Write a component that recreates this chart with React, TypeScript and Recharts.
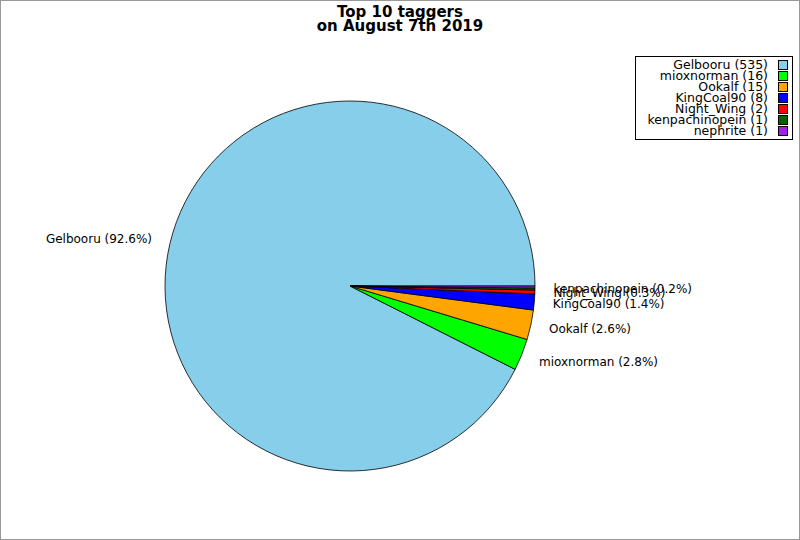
import React from "react";
import { Cell, Legend, Pie, PieChart } from "recharts";

const taggers = ["Gelbooru", "mioxnorman", "Ookalf", "KingCoal90", "Night_Wing", "kenpachinopein", "nephrite"];
const counts = [535, 16, 15, 8, 2, 1, 1];
const colors = ["#87ceeb", "#00ff00", "#ffa500", "#0000ff", "#ff0000", "#006400", "#a020f0"];
// the picture has no label for the last slice
const showLabel = [true, true, true, true, true, true, false];

const FONT = "'DejaVu Sans', sans-serif";
const RADIAN = Math.PI / 180;

const data = taggers.map((name, i) => ({ name, value: counts[i] }));

function renderLabel(props: any) {
  const { cx, cy, midAngle, outerRadius, index, percent } = props;
  if (!showLabel[index]) return null;
  const r = outerRadius * 1.1;
  const x = cx + r * Math.cos(-midAngle * RADIAN);
  const y = cy + r * Math.sin(-midAngle * RADIAN);
  return (
    <text
      x={x}
      y={y}
      fill="#000"
      fontSize={12}
      fontFamily={FONT}
      textAnchor={x > cx ? "start" : "end"}
      dominantBaseline="central"
    >
      {`${taggers[index]} (${(percent * 100).toFixed(1)}%)`}
    </text>
  );
}

function LegendBox() {
  return (
    <div
      style={{
        border: "1px solid #000",
        background: "#fff",
        padding: "2px 4px 3px 11px",
        fontFamily: FONT,
        fontSize: 12.5,
        lineHeight: "11px",
      }}
    >
      {taggers.map((t, i) => (
        <div key={t} style={{ display: "flex", justifyContent: "flex-end", alignItems: "center" }}>
          <span>{`${t} (${counts[i]})`}</span>
          <span
            style={{
              display: "inline-block",
              width: 8,
              height: 8,
              marginLeft: 10,
              background: colors[i],
              border: "1px solid #000",
            }}
          />
        </div>
      ))}
    </div>
  );
}

export default function App() {
  return (
    <div
      style={{
        position: "absolute",
        left: 0,
        top: 0,
        width: 798,
        height: 538,
        border: "1px solid #999",
        background: "#fff",
      }}
    >
      <div
        style={{
          position: "absolute",
          left: 0,
          width: 798,
          top: 4,
          textAlign: "center",
          fontFamily: FONT,
          fontWeight: "bold",
          fontSize: 15,
          lineHeight: "14px",
          zIndex: 2,
        }}
      >
        Top 10 taggers
        <br />
        on August 7th 2019
      </div>
      <PieChart width={798} height={538}>
        <Pie
          data={data}
          dataKey="value"
          nameKey="name"
          cx={344}
          cy={280}
          outerRadius={185}
          startAngle={0}
          endAngle={360}
          stroke="#000"
          strokeWidth={0.8}
          label={renderLabel}
          labelLine={false}
          isAnimationActive={false}
        >
          {data.map((d, i) => (
            <Cell key={d.name} fill={colors[i]} />
          ))}
        </Pie>
        <Legend
          layout="vertical"
          align="right"
          verticalAlign="top"
          wrapperStyle={{ top: 55, right: 6, width: "auto" }}
          content={() => <LegendBox />}
        />
      </PieChart>
    </div>
  );
}
